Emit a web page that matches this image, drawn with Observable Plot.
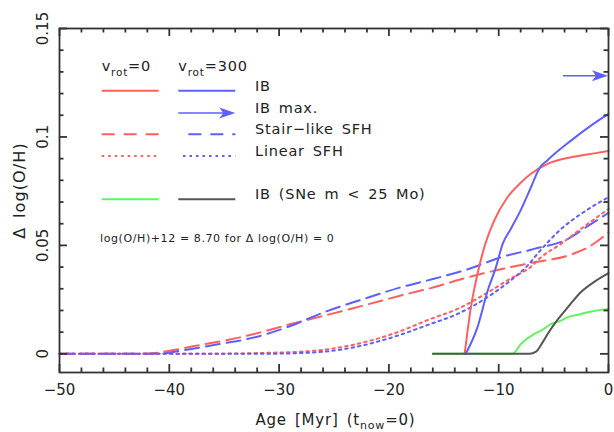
<!DOCTYPE html>
<html><head><meta charset="utf-8">
<script src="https://cdn.jsdelivr.net/npm/d3@7"></script>
<script src="https://cdn.jsdelivr.net/npm/@observablehq/plot@0.6"></script>
<style>
body{margin:0;background:#fff}
#chart svg{font-family:"DejaVu Sans",sans-serif;overflow:visible}
</style>
</head><body><div id="chart"></div>
<script>
// ---- data ----
const xTicks = [-50, -40, -30, -20, -10, 0];
const yTicks = [0, 0.05, 0.1, 0.15];
const yTickLabels = ["0", "0.05", "0.1", "0.15"];
const xMinorStep = 2;
const yMinorStep = 0.01;

// IB, v_rot = 0 (red solid)
const ib0Age = [-13.1, -12.53, -11.93, -11.32, -10.41, -9.2, -7.97, -7.06, -5.55, -3.42, -1.6, 0];
const ib0Val = [0, 0.0215, 0.0369, 0.049, 0.0614, 0.0722, 0.079, 0.083, 0.0876, 0.0906, 0.0922, 0.0935];
// IB, v_rot = 300 (blue solid)
const ib300Age = [-13, -11.93, -11.0, -10.25, -9.64, -8.9, -7.97, -7.06, -6.3, -5.55, -3.42, -1.6, 0];
const ib300Val = [0, 0.0123, 0.0292, 0.040, 0.0507, 0.0576, 0.0665, 0.0768, 0.0855, 0.0893, 0.0983, 0.1052, 0.1106];
// IB max (v_rot = 300), arrow
const ibMaxVal = 0.128;
const ibMaxFrom = -4.1;
// Stair-like SFH, v_rot = 0 (red dashed)
const stair0Age = [-50, -42.3, -39.6, -37.45, -35.3, -33.2, -31.1, -29.1, -25.9, -22.3, -18.9, -15.9, -12.8, -9.8, -6.76, -3.7, -1.9, 0];
const stair0Val = [0, 0, 0.0018, 0.0038, 0.0058, 0.008, 0.0107, 0.0135, 0.0176, 0.0223, 0.0269, 0.0307, 0.0353, 0.039, 0.0422, 0.0453, 0.049, 0.056];
// Stair-like SFH, v_rot = 300 (blue dashed)
const stair300Age = [-50, -41.1, -39.3, -37.1, -35, -33.2, -31.1, -29.1, -25.9, -22.3, -18.9, -15.9, -12.8, -9.8, -6.76, -3.7, -2.0, 0];
const stair300Val = [0, 0, 0.0012, 0.003, 0.0049, 0.0065, 0.0092, 0.0126, 0.0192, 0.0253, 0.0307, 0.0346, 0.039, 0.0445, 0.0484, 0.053, 0.0585, 0.065];
// Linear SFH, v_rot = 0 (red dotted)
const lin0Age = [-50, -38, -30, -25.3, -22.3, -19.2, -16.2, -13.75, -11, -9, -7.06, -6.15, -4.33, -2.51, 0];
const lin0Val = [0, 0, 0.0006, 0.0023, 0.0053, 0.010, 0.0161, 0.0207, 0.0283, 0.0345, 0.0402, 0.0445, 0.0507, 0.0576, 0.0668];
// Linear SFH, v_rot = 300 (blue dotted)
const lin300Age = [-50, -32, -28, -25, -22.3, -19.2, -16.2, -13.75, -11, -9, -7.5, -6.15, -4.33, -2.51, 0];
const lin300Val = [0, 0, 0.0004, 0.0015, 0.004, 0.0084, 0.0138, 0.0184, 0.0262, 0.0335, 0.040, 0.048, 0.0575, 0.0645, 0.0722];
// IB (SNe m < 25 Mo), v_rot = 0 (green)
const sne0Age = [-16, -8.74, -7.97, -6.76, -6.15, -5.2, -4.33, -3.7, -2.51, -1.9, 0];
const sne0Val = [0, 0, 0.0046, 0.0092, 0.0107, 0.0138, 0.0153, 0.0169, 0.0184, 0.0192, 0.0207];
// IB (SNe m < 25 Mo), v_rot = 300 (dark grey)
const sne300Age = [-16, -7.2, -6.6, -6.1, -5.5, -4.6, -3.7, -2.5, -1.2, 0];
const sne300Val = [0, 0, 0.001, 0.0045, 0.0095, 0.016, 0.0215, 0.0285, 0.0335, 0.0372];

// ---- styles / layout ----
const RED = "#ff5f5f", BLUE = "#5f5fff", GREEN = "#5ff55f", GREY = "#555555";
const DASH = "14,7", DOT = "2.5,4";
const TXT = "#222", AX = "#333";
const FONT = "DejaVu Sans, sans-serif";
const W = 614, H = 432;
const M = {left: 59, right: 6, top: 28, bottom: 60};
const xDomain = [-50, 0], yDomain = [-0.0086, 0.15];

const toRows = (xs, ys) => xs.map((x, i) => ({x, y: ys[i]}));
const series = [
  {rows: toRows(stair0Age, stair0Val), stroke: RED, dash: DASH},
  {rows: toRows(stair300Age, stair300Val), stroke: BLUE, dash: DASH},
  {rows: toRows(lin0Age, lin0Val), stroke: RED, dash: DOT},
  {rows: toRows(lin300Age, lin300Val), stroke: BLUE, dash: DOT},
  {rows: toRows(sne0Age, sne0Val), stroke: GREEN, dash: null},
  {rows: toRows(ib0Age, ib0Val), stroke: RED, dash: null},
  {rows: toRows(ib300Age, ib300Val), stroke: BLUE, dash: null},
  {rows: toRows(sne300Age, sne300Val), stroke: GREY, dash: null}
];

// tick lengths in pixels, converted to data units so the ticks are plain Plot rules
const pxPerX = (W - M.left - M.right) / (xDomain[1] - xDomain[0]);
const pxPerY = (H - M.top - M.bottom) / (yDomain[1] - yDomain[0]);
const isMajorX = v => xTicks.some(m => Math.abs(m - v) < 1e-6);
const isMajorY = v => yTicks.some(m => Math.abs(m - v) < 1e-6);
const xTickRows = d3.range(xDomain[0], xDomain[1] + 1e-6, xMinorStep).map(v => ({v, len: isMajorX(v) ? 8 : 4.5}));
const yTickRows = d3.range(0, 0.15 + 1e-6, yMinorStep).map(v => ({v, len: isMajorY(v) ? 8 : 4.5}));
const tickOpts = {stroke: AX, strokeWidth: 1.8};
const tickMarks = [
  Plot.ruleX(xTickRows, {x: "v", y1: yDomain[0], y2: d => yDomain[0] + d.len / pxPerY, ...tickOpts}),
  Plot.ruleX(xTickRows, {x: "v", y1: yDomain[1], y2: d => yDomain[1] - d.len / pxPerY, ...tickOpts}),
  Plot.ruleY(yTickRows, {y: "v", x1: xDomain[0], x2: d => xDomain[0] + d.len / pxPerX, ...tickOpts}),
  Plot.ruleY(yTickRows, {y: "v", x1: xDomain[1], x2: d => xDomain[1] - d.len / pxPerX, ...tickOpts})
];

// the IB-max arrow, the in-plot legend and the axis titles
function decor(index, scales, values, dims) {
  const {x, y} = scales;
  const l = dims.marginLeft;
  const r = dims.width - dims.marginRight;
  const g = d3.create("svg:g").attr("text-anchor", "start");

  const arrow = (sel, x1, x2, yy) => {
    sel.append("line").attr("x1", x1).attr("x2", x2 - 12).attr("y1", yy).attr("y2", yy)
      .attr("stroke", BLUE).attr("stroke-width", 1.6);
    sel.append("path").attr("d", `M${x2},${yy}L${x2 - 16},${yy - 5.5}L${x2 - 12},${yy}L${x2 - 16},${yy + 5.5}Z`)
      .attr("fill", BLUE);
  };
  arrow(g, x(ibMaxFrom), x(0), y(ibMaxVal));

  const lg = g.append("g").attr("font-family", FONT).attr("fill", TXT).attr("text-anchor", "start");
  const cx0 = 101.7, cx1 = 178.3, lineLen = 57, tx = 255;
  const head = (xx, label) => {
    const tt = lg.append("text").attr("x", xx).attr("y", 70.7).attr("font-size", 14.5)
      .attr("letter-spacing", 0.8);
    tt.append("tspan").text("v");
    tt.append("tspan").attr("font-size", 10.5).attr("dy", 5).text("rot");
    tt.append("tspan").attr("dy", -5).text("=" + label);
  };
  head(cx0, "0"); head(cx1, "300");
  const row = (yy, label, left, right) => {
    if (left) lg.append("line").attr("x1", cx0).attr("x2", cx0 + lineLen).attr("y1", yy).attr("y2", yy)
      .attr("stroke", left.stroke).attr("stroke-width", 2).attr("stroke-dasharray", left.dash);
    if (right) lg.append("line").attr("x1", right.x1 ?? cx1).attr("x2", cx1 + lineLen).attr("y1", yy).attr("y2", yy)
      .attr("stroke", right.stroke).attr("stroke-width", 2).attr("stroke-dasharray", right.dash);
    lg.append("text").attr("x", tx).attr("y", yy).attr("font-size", 14.5)
      .attr("letter-spacing", 0.8).attr("word-spacing", 2.5).text(label);
  };
  row(90.7, "IB", {stroke: RED}, {stroke: BLUE});
  arrow(lg, cx1, cx1 + lineLen, 113);
  lg.append("text").attr("x", tx).attr("y", 113.3).attr("font-size", 14.5)
    .attr("letter-spacing", 0.8).attr("word-spacing", 2.5).text("IB max.");
  row(134.3, "Stair\u2212like SFH", {stroke: RED, dash: "13,9"}, {stroke: BLUE, dash: "13,9", x1: 188.3});
  row(156, "Linear SFH", {stroke: RED, dash: DOT}, {stroke: BLUE, dash: DOT, x1: 183});
  row(199.3, "IB (SNe m < 25 Mo)", {stroke: GREEN}, {stroke: GREY});
  lg.append("text").attr("x", 100).attr("y", 242.3).attr("font-size", 11)
    .attr("letter-spacing", 0.6).text("log(O/H)+12 = 8.70 for \u0394 log(O/H) = 0");

  const xt = g.append("text").attr("font-family", FONT).attr("fill", TXT).attr("font-size", 15)
    .attr("letter-spacing", 0.8).attr("word-spacing", 2.5).attr("text-anchor", "middle")
    .attr("x", (l + r) / 2 + 2).attr("y", 425);
  xt.append("tspan").text("Age [Myr] (t");
  xt.append("tspan").attr("font-size", 11).attr("dy", 4).text("now");
  xt.append("tspan").attr("dy", -4).text("=0)");
  g.append("text").attr("font-family", FONT).attr("fill", TXT).attr("font-size", 16)
    .attr("letter-spacing", 1.1).attr("word-spacing", 2.5).attr("text-anchor", "middle")
    .attr("transform", `translate(25,${190.5}) rotate(-90)`).text("\u0394 log(O/H)");
  return g.node();
}

const lineMarks = series.map(s => Plot.line(s.rows, {
  x: "x", y: "y", stroke: s.stroke, strokeWidth: 2, curve: "monotone-x",
  strokeDasharray: s.dash ?? undefined
}));

const chart = Plot.plot({
  width: W, height: H,
  marginLeft: M.left, marginRight: M.right, marginTop: M.top, marginBottom: M.bottom,
  style: {fontFamily: FONT, background: "#fff", overflow: "visible"},
  x: {domain: xDomain},
  y: {domain: yDomain},
  marks: [
    ...lineMarks,
    Plot.axisX({ticks: xTicks, tickSize: 0, tickPadding: 12, fontSize: 15, fill: TXT,
      tickFormat: d => d === 0 ? "0" : "\u2212" + Math.abs(d), label: null}),
    Plot.axisY({ticks: yTicks, tickSize: 0, tickPadding: 12, fontSize: 15, fill: TXT,
      rotate: -90, textAnchor: "middle", lineAnchor: "bottom",
      tickFormat: d => yTickLabels[yTicks.findIndex(v => Math.abs(v - d) < 1e-9)], label: null}),
    ...tickMarks,
    Plot.frame({stroke: AX, strokeWidth: 1.8}),
    decor
  ]
});
document.getElementById("chart").append(chart);
</script>
</body></html>
